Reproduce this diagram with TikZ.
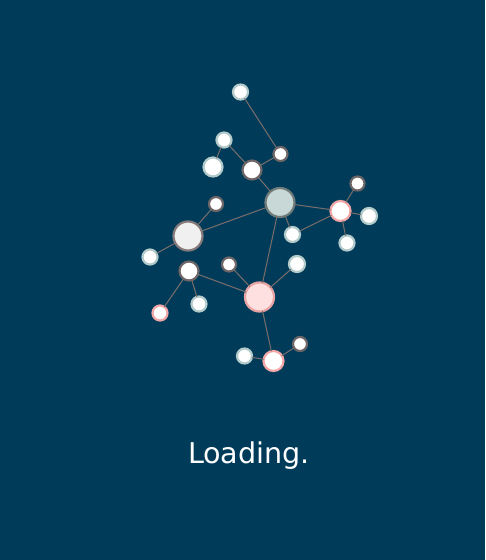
\documentclass[tikz,border=0pt]{standalone}
\usepackage{fontspec}
\setmainfont{DejaVu Sans}
\definecolor{bg}{HTML}{003C5A}
\definecolor{edgec}{HTML}{7A6E6A}
\definecolor{strkdark}{HTML}{6E6666}
\definecolor{strklight}{HTML}{B3CACA}
\definecolor{strkpink}{HTML}{F2A6A6}
\definecolor{hubfill}{HTML}{C8D8D6}
\definecolor{hubstrk}{HTML}{6E7B78}
\definecolor{grayfill}{HTML}{F0F0F0}
\definecolor{graystrk}{HTML}{857B7B}
\definecolor{pinkfill}{HTML}{FFE0E0}
\definecolor{pinkstrk}{HTML}{E9A3A3}
\begin{document}
\begin{tikzpicture}[x=1pt,y=-1pt,
  nd/.style={circle,inner sep=0pt,outer sep=0pt,line width=2.2pt,fill=white},
  dk/.style={nd,draw=strkdark},
  lt/.style={nd,draw=strklight},
  pk/.style={nd,draw=strkpink},
  hub/.style={nd,fill=hubfill,draw=hubstrk},
  gry/.style={nd,fill=grayfill,draw=graystrk},
  pnk/.style={nd,fill=pinkfill,draw=pinkstrk},
  edge/.style={draw=edgec,line width=1pt}]
\fill[bg] (0,0) rectangle (485,560);
\useasboundingbox (0,0) rectangle (485,560);
% nodes (minimum size = diameter)
\node[lt,minimum size=15pt] (A) at (240.5,92) {};
\node[lt,minimum size=15pt] (B) at (224,140) {};
\node[lt,minimum size=19pt] (C) at (213,167) {};
\node[dk,minimum size=19pt] (D) at (252,170) {};
\node[dk,minimum size=14pt] (E) at (280.5,154) {};
\node[hub,minimum size=29pt] (F) at (280,202.5) {};
\node[dk,minimum size=14pt] (G) at (216,204) {};
\node[gry,minimum size=29pt] (H) at (188,236) {};
\node[lt,minimum size=15pt] (I) at (150,257) {};
\node[lt,minimum size=15pt] (J) at (292.5,234.5) {};
\node[pk,minimum size=20pt] (K) at (340.5,211) {};
\node[dk,minimum size=14pt] (L) at (357.5,183.5) {};
\node[lt,minimum size=16pt] (M) at (369,216) {};
\node[lt,minimum size=15pt] (N) at (347,243) {};
\node[dk,minimum size=19pt] (O) at (189,271) {};
\node[dk,minimum size=14pt] (P) at (229,264.5) {};
\node[lt,minimum size=16pt] (Q) at (297,264) {};
\node[pnk,minimum size=29pt] (R) at (259.5,297) {};
\node[pk,minimum size=15pt] (S) at (160,313) {};
\node[lt,minimum size=15pt] (T) at (199,304) {};
\node[lt,minimum size=15pt] (U) at (244.5,356) {};
\node[pk,minimum size=20pt] (V) at (273.5,361) {};
\node[dk,minimum size=14pt] (W) at (300,344) {};
% edges
\foreach \a/\b in {A/E,B/D,B/C,E/D,D/F,F/K,F/J,F/H,F/R,H/G,H/I,K/L,K/M,K/N,K/J,O/R,O/S,O/T,P/R,Q/R,R/V,V/U,V/W}
  \path[edge] (\a) -- (\b);
\node[text=white,font=\fontsize{28.6}{32}\selectfont,anchor=base] (txt) at (249,463) {Loading.};
\end{tikzpicture}
\end{document}
